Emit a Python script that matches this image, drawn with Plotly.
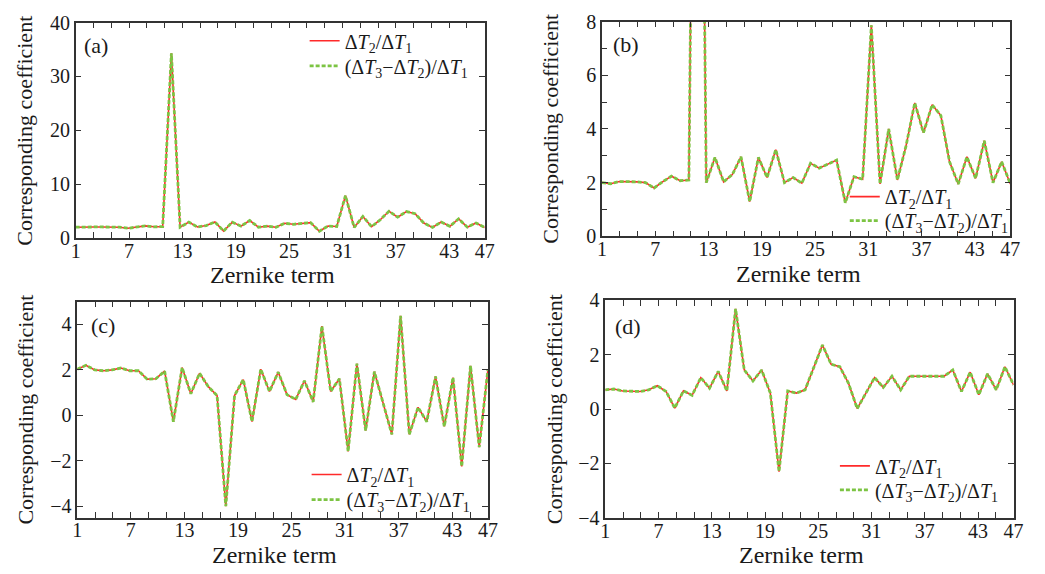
import numpy as np
import plotly.graph_objects as go

# ---------------- data (48 samples per curve) ----------------
tick_labels = [1, 7, 13, 19, 25, 31, 37, 43, 47]

ab_ratio21 = [2.0, 1.96, 2.04, 2.04, 2.03, 2.0, 1.8, 2.04, 2.24, 2.07, 2.1, 34.3,
              2.0, 2.94, 2.03, 2.3, 2.96, 1.29, 2.94, 2.19, 3.23, 2.0, 2.19, 1.98,
              2.72, 2.54, 2.69, 2.84, 1.25, 2.22, 2.13, 7.86, 1.95, 4.0, 2.1, 3.38,
              4.97, 3.86, 4.9, 4.5, 2.78, 1.95, 2.96, 2.16, 3.56, 2.0, 2.78, 1.95]
ab_ratio321 = list(ab_ratio21)

c_ratio21 = [2.03, 2.2, 2.0, 1.96, 2.0, 2.08, 1.96, 1.96, 1.59, 1.61, 1.94, -0.28,
             2.1, 0.95, 1.85, 1.26, 0.87, -4.0, 0.87, 1.57, -0.28, 2.03, 1.05, 1.9,
             0.91, 0.7, 1.52, 0.59, 3.93, 1.05, 1.61, -1.59, 2.27, -0.67, 1.92, 0.55,
             -0.84, 4.38, -0.84, 0.35, -0.28, 1.71, -0.49, 1.66, -2.25, 2.18, -1.4, 2.03]
c_ratio321 = list(c_ratio21)

d_ratio21 = [0.71, 0.74, 0.67, 0.65, 0.65, 0.71, 0.86, 0.65, 0.04, 0.67, 0.51, 1.16,
             0.77, 1.39, 0.67, 3.69, 1.44, 1.04, 1.44, 0.59, -2.3, 0.67, 0.59, 0.71,
             1.54, 2.36, 1.65, 1.56, 0.95, 0.02, 0.59, 1.16, 0.8, 1.21, 0.71, 1.21,
             1.21, 1.21, 1.21, 1.21, 1.44, 0.65, 1.36, 0.53, 1.3, 0.71, 1.56, 0.89]
d_ratio321 = list(d_ratio21)

name1 = "Δ<i>T</i><sub>2</sub>/Δ<i>T</i><sub>1</sub>"
name2 = "(Δ<i>T</i><sub>3</sub>−Δ<i>T</i><sub>2</sub>)/Δ<i>T</i><sub>1</sub>"

# ---------------- styling ----------------
W, H = 1045, 574
FONT = "Liberation Serif, Times New Roman, serif"
RED = "#ff2a2a"
GREEN = "#7cc443"
AX = "#333333"
TXT = "#1a1a1a"

def px_x(a, b):
    return [a / W, b / W]

def px_y(top, bottom):
    return [1 - bottom / H, 1 - top / H]

panels = [
    dict(lab="(a)", y1=ab_ratio21, y2=ab_ratio321, xd=px_x(71.7, 486.7), yd=px_y(12, 236),
         yr=[0, 40], ytv=[0, 10, 20, 30, 40], yminor=None,
         legx=304, legrows=(31, 57), labpos=(0.015, 0.895)),
    dict(lab="(b)", y1=ab_ratio21, y2=ab_ratio321, xd=px_x(605.7, 1020), yd=px_y(11, 234.3),
         yr=[0, 8], ytv=[0, 2, 4, 6, 8], yminor=[1, 3, 5, 7],
         legx=852, legrows=(193, 218), labpos=(0.022, 0.895)),
    dict(lab="(c)", y1=c_ratio21, y2=c_ratio321, xd=px_x(73.3, 490), yd=px_y(302.3, 526.7),
         yr=[-4.5, 5], ytv=[-4, -2, 0, 2, 4], yminor=None,
         legx=306, legrows=(482, 508), labpos=(0.028, 0.89)),
    dict(lab="(d)", y1=d_ratio21, y2=d_ratio321, xd=px_x(609, 1023.3), yd=px_y(301, 527),
         yr=[-4, 4], ytv=[-4, -2, 0, 2, 4], yminor=None,
         legx=842, legrows=(473, 498), labpos=(0.02, 0.88)),
]

# unlabeled ticks at every odd term in between the labelled ones
x_minor = [v for v in range(1, 48, 2) if v not in tick_labels]

fig = go.Figure()
layout = dict(width=W, height=H, margin=dict(l=0, r=0, t=0, b=0),
              paper_bgcolor="white", plot_bgcolor="white",
              font=dict(family=FONT, size=20, color=TXT),
              showlegend=True, annotations=[])

leg_idx = 0
for i, p in enumerate(panels):
    n = i + 1
    sx = "" if n == 1 else str(n)
    xa, ya = "x" + sx, "y" + sx
    xpos = np.linspace(tick_labels[0], tick_labels[-1], len(p["y1"]))
    series = [(p["y1"], name1, dict(color=RED, width=1.6)),
              (p["y2"], name2, dict(color=GREEN, width=2.8, dash="4px,2px"))]
    for (yv, nm, ln), row in zip(series, p["legrows"]):
        leg_idx += 1
        legname = "legend" if leg_idx == 1 else "legend" + str(leg_idx)
        fig.add_trace(go.Scatter(x=xpos, y=yv, mode="lines", name=nm, line=ln,
                                 xaxis=xa, yaxis=ya, legend=legname))
        layout[legname] = dict(x=p["legx"] / W, y=1 - row / H, xanchor="left",
                               yanchor="middle", bgcolor="rgba(0,0,0,0)", borderwidth=0,
                               font=dict(family=FONT, size=20, color=TXT), itemwidth=30)
    common = dict(showline=True, linecolor=AX, linewidth=1.5, mirror="ticks",
                  ticks="inside", ticklen=6, tickcolor=AX, tickwidth=1.2,
                  showgrid=False, zeroline=False,
                  tickfont=dict(family=FONT, size=20, color=TXT))
    layout["xaxis" + sx] = dict(domain=p["xd"], anchor=ya, range=[1, 47],
                                tickvals=tick_labels, ticktext=[str(t) for t in tick_labels],
                                minor=dict(tickvals=x_minor, ticks="inside", ticklen=6,
                                           tickcolor=AX, tickwidth=1.2, showgrid=False),
                                ticklabelstandoff=-6, **common)
    ydict = dict(domain=p["yd"], anchor=xa, range=p["yr"], tickvals=p["ytv"],
                 ticktext=[str(v).replace("-", "−") for v in p["ytv"]], **common)
    if p["yminor"]:
        ydict["minor"] = dict(tickvals=p["yminor"], ticks="inside", ticklen=5,
                              tickcolor=AX, tickwidth=1.2, showgrid=False)
    layout["yaxis" + sx] = ydict
    # panel label
    layout["annotations"].append(dict(text=p["lab"], xref=xa + " domain", yref=ya + " domain",
                                      x=p["labpos"][0], y=p["labpos"][1], xanchor="left",
                                      yanchor="middle", showarrow=False,
                                      font=dict(family=FONT, size=22, color=TXT)))
    # axis titles
    xc = (p["xd"][0] + p["xd"][1]) / 2 - 8 / W
    layout["annotations"].append(dict(text="Zernike term", xref="paper", yref="paper",
                                      x=xc, y=p["yd"][0] - 39 / H, xanchor="center",
                                      yanchor="middle", showarrow=False,
                                      font=dict(family=FONT, size=24, color=TXT)))
    yc = (p["yd"][0] + p["yd"][1]) / 2
    layout["annotations"].append(dict(text="Corresponding coefficient", xref="paper",
                                      yref="paper", x=p["xd"][0] - 52 / W, y=yc,
                                      xanchor="center", yanchor="middle", textangle=-90,
                                      showarrow=False,
                                      font=dict(family=FONT, size=22, color=TXT)))

fig.update_layout(**layout)
fig.write_html("out.html")
